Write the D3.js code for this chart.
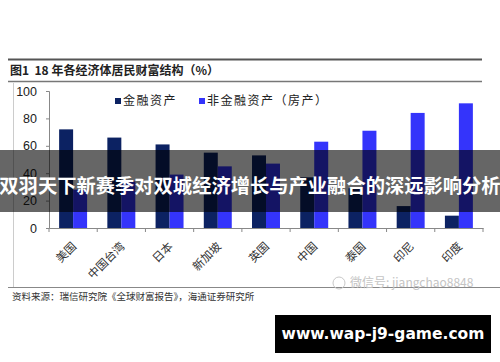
<!DOCTYPE html>
<html>
<head>
<meta charset="utf-8">
<script src="https://cdn.jsdelivr.net/npm/d3@7"></script>
<style>
  body { margin: 0; background: #fff; }
  svg { display: block; }
  .cjk { font-family: "Noto Sans CJK SC", sans-serif; }
</style>
</head>
<body>
<svg id="chart" width="500" height="362"></svg>
<script>
var categories = ["美国", "中国台湾", "日本", "新加坡", "英国", "中国", "泰国", "印尼", "印度"];
var financial = [72, 66, 61, 55, 53, 37, 29, 16, 9];
var nonFinancial = [28, 34, 39, 45, 47, 63, 71, 84, 91];
var yTicks = [0, 20, 40, 60, 80, 100];
var keys = ["金融资产", "非金融资产（房产）"];

var data = categories.map((c, i) => ({cat: c, "金融资产": financial[i], "非金融资产（房产）": nonFinancial[i]}));

var svg = d3.select("#chart");

var x0 = d3.scaleBand()
    .domain(categories)
    .range([49, 483])
    .paddingInner(0.42)
    .paddingOuter(0.21);

var x1 = d3.scaleBand()
    .domain(keys)
    .range([0, x0.bandwidth()]);

var y = d3.scaleLinear()
    .domain([0, 100])
    .range([228, 91]);

var z = d3.scaleOrdinal()
    .domain(keys)
    .range(["#0c2262", "#3434fb"]);

// frame lines
svg.append("line").attr("x1", 8).attr("x2", 482).attr("y1", 59.5).attr("y2", 59.5)
    .attr("stroke", "#555").attr("stroke-width", 2);
svg.append("line").attr("x1", 8).attr("x2", 482).attr("y1", 81.5).attr("y2", 81.5)
    .attr("stroke", "#777").attr("stroke-width", 1.5);
svg.append("line").attr("x1", 13.5).attr("x2", 13.5).attr("y1", 83).attr("y2", 287)
    .attr("stroke", "#ccc");
svg.append("line").attr("x1", 8).attr("x2", 500).attr("y1", 287.5).attr("y2", 287.5)
    .attr("stroke", "#888");

svg.append("text")
    .attr("class", "cjk")
    .attr("x", 10).attr("y", 75)
    .style("font-size", "12px").style("font-weight", "bold").style("white-space", "pre")
    .attr("fill", "#222")
    .text("图1  18 年各经济体居民财富结构（%）");

// y axis
var yAxis = svg.append("g")
    .attr("transform", "translate(49,0)")
    .call(d3.axisLeft(y).tickValues(yTicks).tickSize(3).tickPadding(9));
yAxis.selectAll("path,line").attr("stroke", "#888");
yAxis.selectAll("text")
    .style("font-family", "'Liberation Sans', Arial, sans-serif")
    .style("font-size", "12.5px").attr("fill", "#222");

// bars
svg.append("g").selectAll("g")
    .data(data)
    .enter().append("g")
    .attr("transform", d => "translate(" + x0(d.cat) + ",0)")
    .selectAll("rect")
    .data(d => keys.map(k => ({key: k, value: d[k]})))
    .enter().append("rect")
    .attr("x", d => x1(d.key))
    .attr("width", x1.bandwidth())
    .attr("y", d => y(d.value))
    .attr("height", d => y(0) - y(d.value))
    .attr("fill", d => z(d.key));

// x axis
var xAxis = svg.append("g")
    .attr("transform", "translate(0,228)")
    .call(d3.axisBottom(x0).tickSize(0).tickPadding(0));
xAxis.select(".domain").attr("stroke", "#888");
xAxis.selectAll("text")
    .attr("class", "cjk")
    .style("font-size", "11.5px").attr("fill", "#333")
    .attr("text-anchor", "end")
    .attr("dy", null).attr("y", 0)
    .attr("transform", "translate(4,19) rotate(-45)");

svg.append("g").selectAll("line")
    .data(d3.range(categories.length + 1))
    .enter().append("line")
    .attr("x1", i => x0.range()[0] + i * x0.step())
    .attr("x2", i => x0.range()[0] + i * x0.step())
    .attr("y1", 228).attr("y2", 232)
    .attr("stroke", "#888");

// legend
var legend = svg.selectAll(".legend")
    .data(keys)
    .enter().append("g")
    .attr("class", "legend")
    .attr("transform", (d, i) => "translate(" + [115, 199][i] + ",101)");

legend.append("rect")
    .attr("y", -3).attr("width", 6).attr("height", 6)
    .attr("fill", d => z(d));

legend.append("text")
    .attr("class", "cjk")
    .attr("x", 8).attr("dy", "0.35em")
    .style("font-size", "12px").style("letter-spacing", "1.5px").attr("fill", "#222")
    .text(d => d);

// source + watermark
svg.append("text")
    .attr("class", "cjk")
    .attr("x", 12).attr("y", 300)
    .style("font-size", "9.5px").attr("fill", "#333")
    .text("资料来源：瑞信研究院《全球财富报告》，海通证券研究所");

svg.append("circle").attr("cx", 339).attr("cy", 283).attr("r", 6)
    .attr("fill", "none").attr("stroke", "#c8c8c8");
svg.append("text")
    .attr("class", "cjk")
    .attr("x", 350).attr("y", 287)
    .style("font-size", "12px").attr("fill", "#c4c4c4")
    .text("微信号: jiangchao8848");

// banner
svg.append("rect")
    .attr("x", 0).attr("y", 150).attr("width", 500).attr("height", 62)
    .attr("fill", "rgba(0,0,0,0.6)");
svg.append("text")
    .attr("class", "cjk")
    .attr("x", 250).attr("y", 185)
    .attr("text-anchor", "middle").attr("dominant-baseline", "central")
    .style("font-size", "19.3px").style("font-weight", "bold").attr("fill", "#fff")
    .text("双羽天下新赛季对双城经济增长与产业融合的深远影响分析");

// site box
svg.append("rect")
    .attr("x", 275).attr("y", 315).attr("width", 216).attr("height", 38)
    .attr("fill", "#000");
svg.append("text")
    .attr("x", 383).attr("y", 334)
    .attr("text-anchor", "middle").attr("dominant-baseline", "central")
    .style("font-family", "'DejaVu Sans', sans-serif")
    .style("font-size", "15.5px").style("font-weight", "bold").attr("fill", "#fff")
    .text("www.wap-j9-game.com");
</script>
</body>
</html>
